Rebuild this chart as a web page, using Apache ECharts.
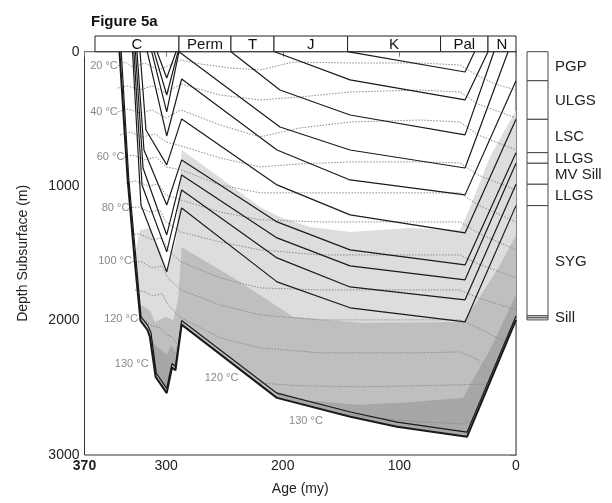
<!DOCTYPE html>
<html>
<head>
<meta charset="utf-8">
<style>
html, body { margin: 0; padding: 0; background: #fff; }
#chart { width: 612px; height: 503px; }
</style>
<script src="https://cdn.jsdelivr.net/npm/echarts@6/dist/echarts.min.js"></script>
</head>
<body>
<div id="chart"></div>
<script>
// geologic periods along the top (age in my)
const periodNames = ['C', 'Perm', 'T', 'J', 'K', 'Pal', 'N']
const periodStart = [361, 289, 244.4, 207.5, 144.4, 64.7, 24]
const periodEnd = [289, 244.4, 207.5, 144.4, 64.7, 24, 0]

// present-day column on the right (thickness in m)
const unitNames = ['PGP', 'ULGS', 'LSC', 'LLGS', 'MV Sill', 'LLGS', 'SYG', 'Sill', '']
const unitThickness = [216, 287, 248, 79, 156, 159, 820, 15, 15]

// burial curves [age, depth]
const horizonK = [[144.4, 0], [43.7, 151], [35.5, 0]]
const horizonJ = [[207, 0], [142.3, 210], [43.7, 359], [24, 0]]
const horizonT = [[244.4, 0], [202.4, 285], [142.3, 471], [43.7, 619], [18.9, 0]]
const horizonPerm = [[289, 0], [202.4, 560], [142.3, 731], [43.7, 865], [6.8, 0]]
const horizonC1 = [[307.8, 0], [299.5, 196], [291.5, 0]]
const horizonC2 = [[310.4, 0], [299.5, 322], [289.8, 0]]
const horizonC3 = [[312.4, 0], [299.5, 448], [289, 0]]
const horizonPGP = [[316.2, 0], [299.5, 627], [286.7, 203], [204.9, 731], [142.3, 954], [43.7, 1065], [0, 216]]
const horizonULGS = [[322.4, 0], [317.3, 582], [299.5, 842], [286.7, 500], [204.9, 991], [142.3, 1214], [43.7, 1348], [0, 503]]
const horizonLSC = [[325, 0], [319, 731], [299.5, 1140], [286.7, 805], [204.9, 1266], [142.3, 1474], [43.7, 1586], [0, 751]]
const horizonLLGS = [[326.3, 0], [319.8, 865], [299.5, 1363], [286.7, 917], [204.9, 1385], [142.3, 1593], [43.7, 1697], [0, 830]]
const horizonMV = [[327.6, 0], [320.7, 991], [299.5, 1489], [286.7, 1028], [204.9, 1534], [142.3, 1750], [43.7, 1846], [0, 986]]
const horizonLLGS2 = [[328.8, 0], [321.6, 1140], [299.5, 1638], [286.7, 1162], [204.9, 1712], [142.3, 1905], [43.7, 2010], [0, 1145]]
const horizonSill = [[338.5, 0], [332, 950], [326, 1530], [321.5, 1970], [315.5, 2040], [313, 2090], [308.5, 2390], [299.5, 2505], [295, 2320], [292, 2340], [286.7, 2000], [205, 2540], [142, 2680], [102, 2755], [42, 2830], [0, 1965]]
const horizonBase = [[340, 0], [333, 950], [327, 1550], [322, 2000], [316, 2070], [314, 2120], [309, 2420], [299.5, 2540], [295, 2350], [292, 2370], [286.7, 2030], [205, 2575], [142, 2715], [102, 2790], [42, 2865], [0, 1995]]

// isotherms [age, depth]
const iso20 = [[341.3, 106], [335.3, 77], [328.4, 114], [318.1, 84], [306.9, 136], [298.4, 106], [287.3, 62], [271, 91], [245.2, 121], [219.5, 136], [191.2, 77], [142.3, 84], [82.3, 84], [48, 99], [35.2, 166], [18, 240], [0, 285]]
const iso30 = [[341.3, 270], [332.7, 255], [322.4, 285], [312.1, 255], [300.1, 307], [287.3, 240], [253.8, 322], [219.5, 359], [185.2, 337], [142.3, 300], [82.3, 285], [48, 300], [32.6, 389], [0, 493]]
const iso40 = [[341.3, 448], [332.7, 426], [322.4, 456], [312.1, 433], [300.1, 493], [287.3, 433], [253.8, 545], [219.5, 634], [185.2, 567], [142.3, 523], [82.3, 508], [48, 523], [32.6, 619], [0, 731]]
const iso50 = [[339.6, 619], [331, 597], [320.7, 634], [309.5, 612], [300.1, 671], [287.3, 701], [253.8, 790], [219.5, 857], [185.2, 835], [142.3, 820], [82.3, 820], [48, 827], [32.6, 917], [0, 1028]]
const iso60 = [[336.1, 783], [328.4, 768], [318.1, 805], [308.7, 783], [300.1, 857], [287.3, 879], [253.8, 991], [219.5, 1050], [168, 1050], [82.3, 1050], [48, 1050], [32.6, 1140], [0, 1266]]
const iso70 = [[334.4, 976], [325.8, 961], [315.5, 999], [306.9, 984], [300.1, 1065], [287.3, 1103], [253.8, 1192], [219.5, 1251], [168, 1266], [82.3, 1266], [48, 1266], [32.6, 1348], [0, 1474]]
const iso80 = [[331.8, 1162], [324.1, 1155], [313.8, 1192], [305.3, 1177], [300.1, 1266], [287.3, 1341], [253.8, 1415], [219.5, 1474], [168, 1512], [82.3, 1512], [48, 1512], [32.6, 1578], [0, 1682]]
const iso90 = [[330.1, 1363], [322.4, 1356], [312.1, 1400], [303.5, 1385], [298.4, 1474], [287.3, 1563], [253.8, 1682], [219.5, 1757], [168, 1772], [82.3, 1772], [48, 1772], [32.6, 1831], [0, 1920]]
const iso100 = [[329.3, 1563], [320.7, 1563], [312.1, 1608], [303.5, 1593], [298.4, 1682], [287.3, 1772], [253.8, 1883], [219.5, 1958], [168, 1995], [82.3, 1995], [48, 1995], [32.6, 2054], [9.4, 2158]]
const iso110 = [[326.7, 1772], [318.1, 1787], [312.1, 1816], [303.5, 1801], [298.4, 1883], [287.3, 1980], [253.8, 2128], [219.5, 2203], [168, 2240], [82.3, 2240], [48, 2233], [32.6, 2292], [22.3, 2381]]
const iso120a = [[325, 1987], [318.1, 2002], [312.1, 2039], [305.3, 2054], [300.1, 2106], [295, 2121], [289.8, 2181]]
const iso120b = [[222.1, 2463], [185.2, 2485], [133.7, 2493], [82.3, 2485], [48, 2478], [24, 2471]]
const iso130a = [[310.4, 2352], [305.3, 2389], [300.1, 2441], [296.6, 2396], [295.8, 2381]]
const iso130b = [[147.6, 2694], [133.7, 2708], [102.3, 2738], [82.3, 2753], [48, 2768], [39.4, 2753]]

const isoLabels = [
    [353.3, 106, '20 °C'], [353.3, 448, '40 °C'], [347.7, 783, '60 °C'],
    [343.4, 1162, '80 °C'], [343.8, 1556, '100 °C'], [338.7, 1987, '120 °C'],
    [329.5, 2322, '130 °C'], [252.5, 2426, '120 °C'], [180.1, 2746, '130 °C']
]

// shaded maturity zones [age, depth] polygons
const zoneLight = [[328.4, 1563], [322.4, 1326], [313.8, 1311], [305.3, 1474], [299.3, 1623], [291.5, 1400], [286.7, 731], [271, 827], [245.2, 991], [219.5, 1155], [202.4, 1229], [176.6, 1304], [142.3, 1341], [90.9, 1311], [48, 1326], [39.4, 1155], [22.3, 783], [0, 433], [0, 1995], [42, 2865], [102, 2790], [142, 2715], [205, 2575], [286.7, 2030], [292, 2370], [295, 2350], [299.5, 2540], [309, 2420], [314, 2120], [316, 2070], [322, 2000], [327, 1550]]
const zoneMid = [[323.3, 1883], [319.8, 1890], [313.8, 1927], [309.5, 2010], [300.1, 1972], [294.1, 1995], [289.8, 1846], [286.7, 1452], [271, 1534], [245.2, 1667], [219.5, 1809], [191.2, 1972], [133.7, 2017], [45.4, 2010], [32.6, 1846], [13.7, 1586], [0, 1363], [0, 1995], [42, 2865], [102, 2790], [142, 2715], [205, 2575], [286.7, 2030], [292, 2370], [295, 2350], [299.5, 2540], [309, 2420], [314, 2120], [316, 2070], [322, 2000]]
const zoneDarkV = [[316.4, 2069], [309.5, 2181], [299.5, 2255], [295.2, 2181], [292.4, 2233], [290.3, 2181], [290.3, 2261], [292, 2370], [295, 2350], [299.5, 2540], [309, 2420], [314, 2120], [316, 2070]]
const zoneDark = [[204.9, 2530], [185.2, 2590], [133.7, 2627], [88.3, 2605], [45.4, 2575], [39.4, 2478], [22.3, 2218], [0, 1809], [0, 1995], [42, 2865], [102, 2790], [142, 2715], [205, 2575]]

const regular = "'Liberation Sans', Arial, sans-serif"

const chart = echarts.init(document.getElementById('chart'))

function zoneSeries(points, color) {
    return {
        type: 'custom',
        xAxisIndex: 0,
        yAxisIndex: 0,
        z: 1,
        silent: true,
        clip: true,
        data: points,
        encode: { x: 0, y: 1 },
        renderItem(params, api) {
            if (params.dataIndex !== 0) return
            return {
                type: 'polygon',
                shape: { points: points.map(p => api.coord(p)) },
                style: { fill: color }
            }
        }
    }
}

function lineSeries(data, width) {
    return {
        type: 'line',
        xAxisIndex: 0,
        yAxisIndex: 0,
        data: data,
        z: 4,
        symbol: 'none',
        silent: true,
        lineStyle: { color: '#1a1a1a', width: width || 1.2 }
    }
}

function isoSeries(data) {
    return {
        type: 'line',
        xAxisIndex: 0,
        yAxisIndex: 0,
        data: data,
        z: 3,
        symbol: 'none',
        silent: true,
        lineStyle: { color: '#8a8a8a', width: 1, type: [1.5, 1.5] }
    }
}

const horizons = [horizonK, horizonJ, horizonT, horizonPerm, horizonC1, horizonC2, horizonC3,
    horizonPGP, horizonULGS, horizonLSC, horizonLLGS, horizonMV, horizonLLGS2, horizonSill]
const isotherms = [iso20, iso30, iso40, iso50, iso60, iso70, iso80, iso90, iso100, iso110,
    iso120a, iso120b, iso130a, iso130b]

// unit tops and bottoms for the column
let acc = 0
const unitRanges = unitThickness.map(t => {
    const r = [acc, acc + t]
    acc += t
    return r
})

const option = {
    animation: false,
    backgroundColor: '#fff',
    title: {
        text: 'Figure 5a',
        left: 86,
        top: 9,
        textStyle: { fontSize: 15, fontWeight: 'bold', fontFamily: regular, color: '#111' }
    },
    grid: [
        { left: 84.5, top: 51.7, width: 431.5, height: 403.3, show: true, borderColor: '#333', borderWidth: 1 },
        { left: 84.5, top: 36, width: 431.5, height: 15.7 },
        { left: 527, top: 51.7, width: 21, height: 403.3 }
    ],
    xAxis: [
        {
            gridIndex: 0,
            type: 'value',
            min: 0,
            max: 370,
            interval: 100,
            inverse: true,
            name: 'Age (my)',
            nameLocation: 'middle',
            nameGap: 27,
            nameTextStyle: { fontSize: 14, fontFamily: regular, color: '#222' },
            axisLine: { lineStyle: { color: '#777' } },
            axisTick: { length: 5, lineStyle: { color: '#777' } },
            axisLabel: {
                fontSize: 14, fontFamily: regular, color: '#222', margin: 4,
                formatter: v => v === 370 ? '{b|370}' : String(v),
                rich: { b: { fontSize: 14, fontFamily: regular, fontWeight: 'bold', color: '#222' } }
            },
            splitLine: { show: false }
        },
        { gridIndex: 1, type: 'value', min: 0, max: 370, inverse: true, show: false },
        { gridIndex: 2, type: 'value', min: 0, max: 1, show: false }
    ],
    yAxis: [
        {
            gridIndex: 0,
            type: 'value',
            min: 0,
            max: 3000,
            interval: 1000,
            inverse: true,
            name: 'Depth Subsurface (m)',
            nameLocation: 'middle',
            nameGap: 54,
            nameTextStyle: { fontSize: 14, fontFamily: regular, color: '#222' },
            axisLine: { show: true, lineStyle: { color: '#888' } },
            axisTick: { show: true, length: 6, lineStyle: { color: '#777' } },
            axisLabel: { fontSize: 14, fontFamily: regular, color: '#222', margin: 5, formatter: v => String(v) },
            splitLine: { show: false }
        },
        { gridIndex: 1, type: 'value', min: 0, max: 1, show: false },
        { gridIndex: 2, type: 'value', min: 0, max: 3000, inverse: true, show: false }
    ],
    series: [
        zoneSeries(zoneLight, '#dcdddf'),
        zoneSeries(zoneMid, '#bfbfbf'),
        zoneSeries(zoneDarkV, '#a7a7a7'),
        zoneSeries(zoneDark, '#a7a7a7'),
        ...isotherms.map(d => isoSeries(d)),
        ...horizons.map(d => lineSeries(d)),
        lineSeries(horizonBase, 2),
        {
            type: 'scatter',
            xAxisIndex: 0,
            yAxisIndex: 0,
            z: 5,
            silent: true,
            symbolSize: 1,
            itemStyle: { color: 'rgba(0,0,0,0)' },
            data: isoLabels,
            label: {
                show: true,
                position: 'inside',
                formatter: p => p.value[2],
                fontSize: 11,
                fontFamily: regular,
                color: '#6a6a6a'
            }
        },
        {
            type: 'custom',
            xAxisIndex: 1,
            yAxisIndex: 1,
            silent: true,
            data: periodStart.map((s, i) => [s, periodEnd[i]]),
            renderItem(params, api) {
                const a = api.coord([api.value(0), 1])
                const b = api.coord([api.value(1), 0])
                return {
                    type: 'group',
                    children: [
                        {
                            type: 'rect',
                            shape: { x: a[0], y: a[1], width: b[0] - a[0], height: b[1] - a[1] },
                            style: { fill: '#fff', stroke: '#222', lineWidth: 1 }
                        },
                        {
                            type: 'text',
                            style: {
                                text: periodNames[params.dataIndex],
                                x: (a[0] + b[0]) / 2,
                                y: (a[1] + b[1]) / 2 + 1,
                                align: 'center',
                                verticalAlign: 'middle',
                                font: '15px ' + regular,
                                fill: '#111'
                            }
                        }
                    ]
                }
            }
        },
        {
            type: 'custom',
            xAxisIndex: 2,
            yAxisIndex: 2,
            silent: true,
            data: unitRanges,
            renderItem(params, api) {
                const a = api.coord([0, api.value(0)])
                const b = api.coord([1, api.value(1)])
                return {
                    type: 'group',
                    children: [
                        {
                            type: 'rect',
                            shape: { x: a[0], y: a[1], width: b[0] - a[0], height: b[1] - a[1] },
                            style: { fill: '#fff', stroke: '#444', lineWidth: 1 }
                        },
                        {
                            type: 'text',
                            style: {
                                text: unitNames[params.dataIndex],
                                x: b[0] + 7,
                                y: (a[1] + b[1]) / 2 + 1,
                                align: 'left',
                                verticalAlign: 'middle',
                                font: '15px ' + regular,
                                fill: '#222'
                            }
                        }
                    ]
                }
            }
        }
    ]
}

chart.setOption(option)
</script>
</body>
</html>
